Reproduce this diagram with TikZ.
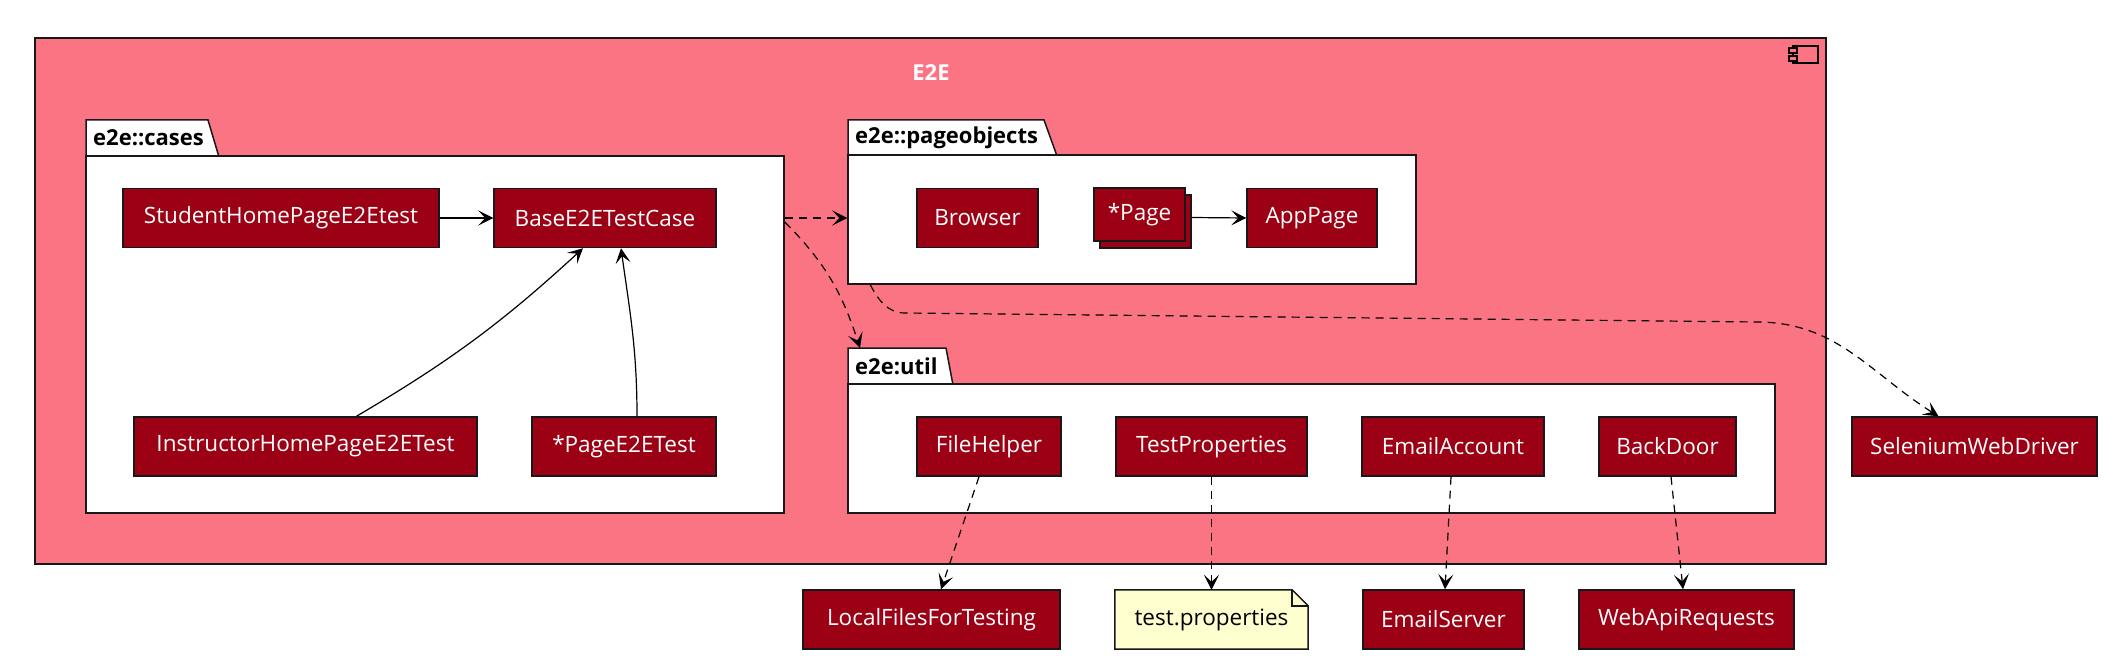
\documentclass[tikz,border=0pt]{standalone}
\usepackage{fontspec}
\setmainfont{Open Sans}
\usetikzlibrary{arrows.meta,shadows,backgrounds}
\definecolor{clsred}{RGB}{156,0,20}
\definecolor{compink}{RGB}{251,116,131}
\definecolor{notefill}{RGB}{254,254,206}
\definecolor{linegray}{RGB}{24,24,24}
\tikzset{
  clsbox/.style={draw=linegray, line width=1.5pt, fill=clsred, text=white, minimum height=59pt, inner sep=0pt},
  notebox/.style={text=black, minimum height=59pt, minimum width=193pt, inner sep=0pt},
  pkgbody/.style={draw=linegray, line width=1.5pt, fill=white, inner sep=0pt},
  pkgtab/.style={draw=linegray, line width=1.5pt, fill=white},
  pkglabel/.style={anchor=west, inner sep=0pt, font=\fontsize{22}{26}\selectfont\bfseries},
  assoc/.style={line width=1.2pt, -{Stealth[length=15pt,width=15pt,inset=7pt]}},
  dep/.style={assoc, dash pattern=on 8pt off 6pt}
}
\begin{document}
\begin{tikzpicture}[x=1pt,y=-1pt,font=\fontsize{22.5}{27}\selectfont]
  \useasboundingbox (0,0) rectangle (2112,666);
  \draw[draw=linegray, line width=1.5pt, fill=compink] (35,38) rectangle (1826,564);
  \node[text=white, font=\fontsize{22}{26}\selectfont\bfseries] (e2e) at (931,73) {E2E};
  \draw[line width=1.3pt] (1793,46) rectangle (1818,63);
  \draw[line width=1.3pt, fill=compink] (1789,48) rectangle (1797,53);
  \draw[line width=1.3pt, fill=compink] (1789,56) rectangle (1797,61);

  \draw[pkgtab] (86,157) -- (86,120) -- (208,120) -- (219,157) -- cycle;
  \node[pkgbody, minimum width=698pt, minimum height=357pt] (cases) at (435,334.5) {};
  \node[pkglabel] (caseslbl) at (93,138) {e2e::cases};
  \draw[pkgtab] (848,156) -- (848,120) -- (1044,120) -- (1057,156) -- cycle;
  \node[pkgbody, minimum width=568pt, minimum height=129pt] (pageobj) at (1132,219.5) {};
  \node[pkglabel] (pageobjlbl) at (855,138) {e2e::pageobjects};
  \draw[pkgtab] (848,385) -- (848,348) -- (946,348) -- (953,385) -- cycle;
  \node[pkgbody, minimum width=927pt, minimum height=129pt] (util) at (1311.5,448.5) {};
  \node[pkglabel] (utillbl) at (855,366) {e2e:util};

  \node[clsbox, minimum width=316pt] (student) at (281,218) {StudentHomePageE2Etest};
  \node[clsbox, minimum width=222pt] (base) at (605,218) {BaseE2ETestCase};
  \node[clsbox, minimum width=343pt] (instructor) at (305.5,446.5) {InstructorHomePageE2ETest};
  \node[clsbox, minimum width=184pt] (pagetest) at (624,446.5) {*PageE2ETest};

  \node[clsbox, minimum width=121pt] (browser) at (977.5,218) {Browser};
  \node[clsbox, minimum width=91pt, minimum height=53pt, copy shadow={shadow xshift=6pt, shadow yshift=-7pt}] (page) at (1139.5,214.5) {*Page};
  \node[clsbox, minimum width=130pt] (apppage) at (1312,218) {AppPage};

  \node[clsbox, minimum width=144pt] (filehelper) at (989,446.5) {FileHelper};
  \node[clsbox, minimum width=191pt] (testprops) at (1211.5,446.5) {TestProperties};
  \node[clsbox, minimum width=182pt] (emailacc) at (1453,446.5) {EmailAccount};
  \node[clsbox, minimum width=137pt] (backdoor) at (1667.5,446.5) {BackDoor};

  \node[clsbox, minimum width=257pt] (localfiles) at (931.5,619.5) {LocalFilesForTesting};
  \node[notebox] (propfile) at (1211.5,619.5) {test.properties};
  \begin{scope}[on background layer]
    \draw[draw=linegray, line width=1.5pt, fill=notefill] (propfile.south west) -- (propfile.north west) -- ([xshift=-16pt]propfile.north east) -- ([yshift=-16pt]propfile.north east) -- (propfile.south east) -- cycle;
  \end{scope}
  \draw[draw=linegray, line width=1.5pt] ([xshift=-16pt]propfile.north east) -- ([xshift=-16pt,yshift=-16pt]propfile.north east) -- ([yshift=-16pt]propfile.north east);
  \node[clsbox, minimum width=161pt] (emailserver) at (1443.5,619.5) {EmailServer};
  \node[clsbox, minimum width=215pt] (webapi) at (1686.5,619.5) {WebApiRequests};
  \node[clsbox, minimum width=245pt] (selenium) at (1974.5,446.5) {SeleniumWebDriver};

  \draw[assoc] (student) -- (base);
  \draw[assoc] ([xshift=51pt]instructor.north) to[bend right=6] ([xshift=-22pt]base.south);
  \draw[assoc] ([xshift=13pt]pagetest.north) to[out=90,in=-82] ([xshift=16pt]base.south);
  \draw[assoc] ([xshift=6pt,yshift=-3pt]page.east) -- (apppage.west);

  \coordinate (utiltop) at (860,348);
  \coordinate (bend1) at (905,313);
  \coordinate (bend2) at (1757,322);
  \draw[dep] (cases.east |- base.east) -- (pageobj.west |- base.east);
  \draw[dep] ([yshift=-4pt]cases.east |- base.east) to[out=-45,in=108] (utiltop);
  \draw[dep] ([xshift=23pt]pageobj.south west) to[out=-62,in=180] (bend1) -- (bend2) to[out=0,in=148] ([xshift=-36pt]selenium.north);

  \draw[dep] ([xshift=-10pt]filehelper.south) -- ([xshift=9.5pt]localfiles.north);
  \draw[dep] (testprops.south) -- (propfile.north);
  \draw[dep] ([xshift=-2pt]emailacc.south) -- ([xshift=1.5pt]emailserver.north);
  \draw[dep] ([xshift=3.5pt]backdoor.south) -- ([xshift=-3.5pt]webapi.north);
\end{tikzpicture}
\end{document}
